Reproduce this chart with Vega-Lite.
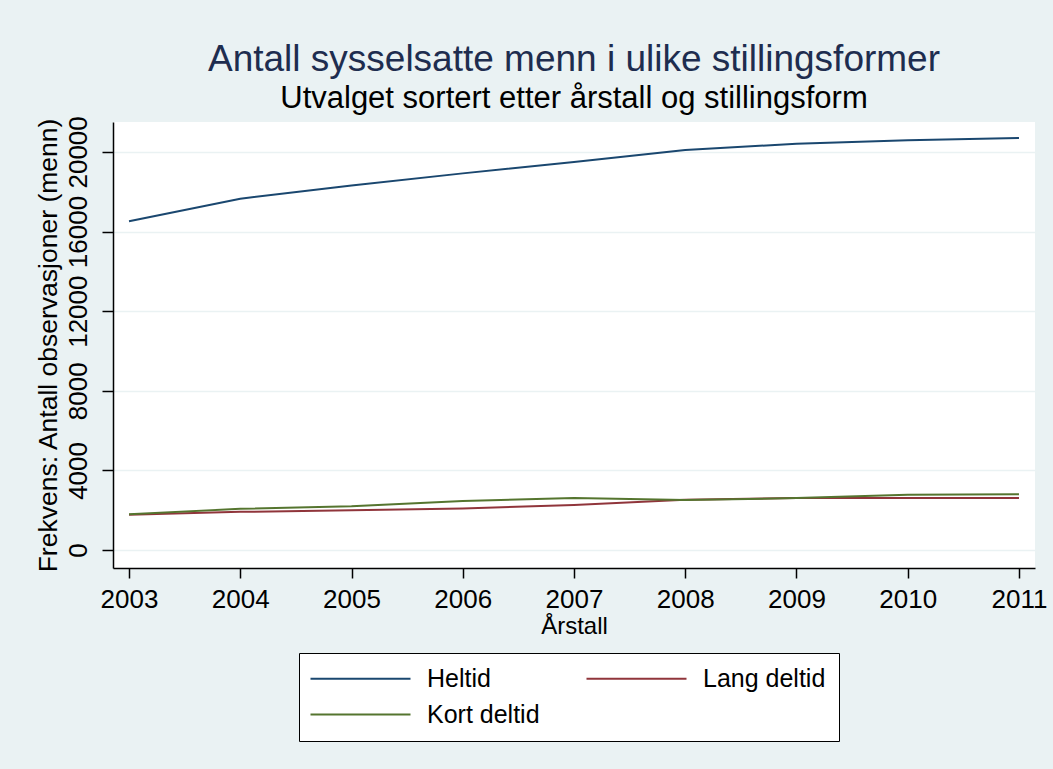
{
  "$schema": "https://vega.github.io/schema/vega-lite/v6.json",
  "autosize": {"type": "none"},
  "width": 922,
  "height": 446,
  "padding": {"left": 113, "top": 122, "right": 18, "bottom": 201},
  "background": "#eaf2f3",
  "view": {"fill": "white", "stroke": null},
  "title": {
    "text": "Antall sysselsatte menn i ulike stillingsformer",
    "subtitle": "Utvalget sortert etter årstall og stillingsform",
    "anchor": "middle",
    "frame": "group",
    "font": "Liberation Sans",
    "fontSize": 37,
    "fontWeight": "normal",
    "color": "#1e2d4f",
    "subtitleFont": "Liberation Sans",
    "subtitleFontSize": 31,
    "subtitleColor": "#000000",
    "subtitlePadding": 5,
    "offset": 1
  },
  "data": {
    "values": [
      {"year": 2003, "form": "Heltid", "count": 16520},
      {"year": 2004, "form": "Heltid", "count": 17650},
      {"year": 2005, "form": "Heltid", "count": 18310},
      {"year": 2006, "form": "Heltid", "count": 18920},
      {"year": 2007, "form": "Heltid", "count": 19490},
      {"year": 2008, "form": "Heltid", "count": 20090},
      {"year": 2009, "form": "Heltid", "count": 20410},
      {"year": 2010, "form": "Heltid", "count": 20580},
      {"year": 2011, "form": "Heltid", "count": 20700},
      {"year": 2003, "form": "Lang deltid", "count": 1770},
      {"year": 2004, "form": "Lang deltid", "count": 1920},
      {"year": 2005, "form": "Lang deltid", "count": 2000},
      {"year": 2006, "form": "Lang deltid", "count": 2090},
      {"year": 2007, "form": "Lang deltid", "count": 2270},
      {"year": 2008, "form": "Lang deltid", "count": 2530},
      {"year": 2009, "form": "Lang deltid", "count": 2610},
      {"year": 2010, "form": "Lang deltid", "count": 2610},
      {"year": 2011, "form": "Lang deltid", "count": 2610},
      {"year": 2003, "form": "Kort deltid", "count": 1800},
      {"year": 2004, "form": "Kort deltid", "count": 2070},
      {"year": 2005, "form": "Kort deltid", "count": 2200},
      {"year": 2006, "form": "Kort deltid", "count": 2470},
      {"year": 2007, "form": "Kort deltid", "count": 2610},
      {"year": 2008, "form": "Kort deltid", "count": 2510},
      {"year": 2009, "form": "Kort deltid", "count": 2610},
      {"year": 2010, "form": "Kort deltid", "count": 2780},
      {"year": 2011, "form": "Kort deltid", "count": 2810}
    ]
  },
  "mark": {"type": "line", "strokeWidth": 2},
  "encoding": {
    "x": {
      "field": "year",
      "type": "quantitative",
      "scale": {"domain": [2002.856, 2011.144], "nice": false, "zero": false},
      "axis": {
        "title": "Årstall",
        "values": [2003, 2004, 2005, 2006, 2007, 2008, 2009, 2010, 2011],
        "format": "d",
        "grid": false,
        "domainColor": "#000000",
        "domainWidth": 1.5,
        "tickColor": "#000000",
        "tickWidth": 1.5,
        "tickSize": 10,
        "labelFont": "Liberation Sans",
        "labelFontSize": 26,
        "labelColor": "#000000",
        "labelPadding": 8,
        "labelFlush": false,
        "labelOverlap": false,
        "titleFont": "Liberation Sans",
        "titleFontSize": 24,
        "titleFontWeight": "normal",
        "titleColor": "#000000",
        "titlePadding": 2
      }
    },
    "y": {
      "field": "count",
      "type": "quantitative",
      "scale": {"domain": [-900, 21500], "nice": false, "zero": false},
      "axis": {
        "title": "Frekvens: Antall observasjoner (menn)",
        "values": [0, 4000, 8000, 12000, 16000, 20000],
        "format": "d",
        "grid": true,
        "gridColor": "#eaf2f3",
        "gridWidth": 1.5,
        "domainColor": "#000000",
        "domainWidth": 1.5,
        "tickColor": "#000000",
        "tickWidth": 1.5,
        "tickSize": 11,
        "labelFont": "Liberation Sans",
        "labelFontSize": 26,
        "labelColor": "#000000",
        "labelAngle": 270,
        "labelAlign": "center",
        "labelBaseline": "bottom",
        "labelPadding": 11,
        "labelOverlap": false,
        "titleFont": "Liberation Sans",
        "titleFontSize": 26.5,
        "titleFontWeight": "normal",
        "titleColor": "#000000",
        "titlePadding": 3
      }
    },
    "color": {
      "field": "form",
      "type": "nominal",
      "scale": {
        "domain": ["Heltid", "Lang deltid", "Kort deltid"],
        "range": ["#1a476f", "#90353b", "#55752f"]
      },
      "legend": {
        "title": null,
        "orient": "none",
        "legendX": 186,
        "legendY": 531,
        "direction": "horizontal",
        "columns": 2,
        "symbolType": "M-1.4,0H8.6",
        "symbolSize": 400,
        "symbolStrokeWidth": 2,
        "labelFont": "Liberation Sans",
        "labelFontSize": 25,
        "labelColor": "#000000",
        "labelOffset": 90,
        "columnPadding": 42,
        "rowPadding": 10,
        "padding": 13,
        "fillColor": "white",
        "strokeColor": "#000000",
        "cornerRadius": 0
      }
    }
  }
}
